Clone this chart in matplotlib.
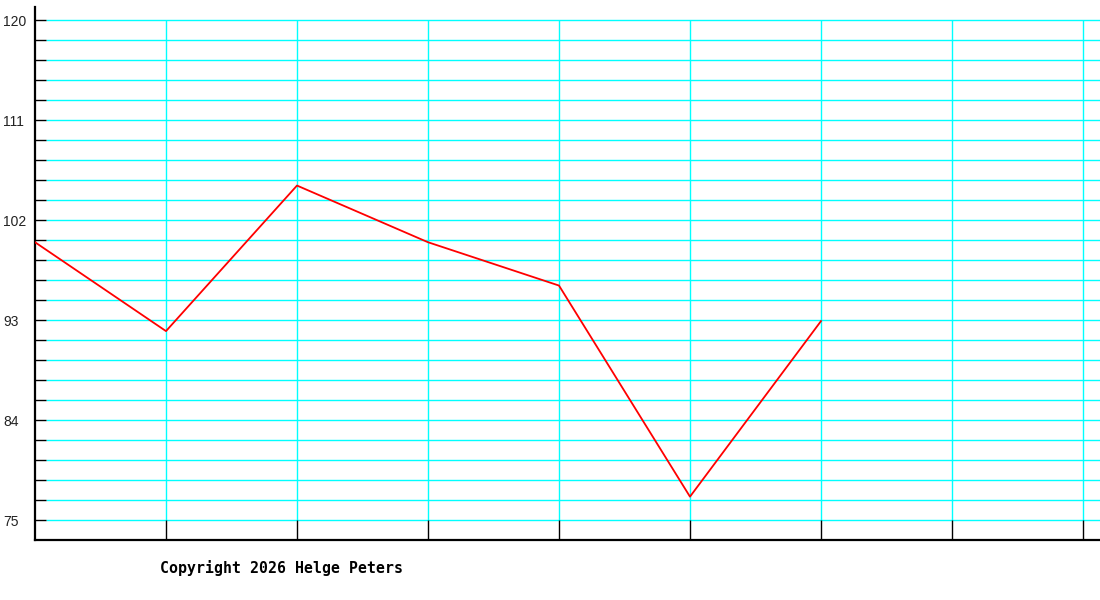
import numpy as np
import matplotlib.pyplot as plt

# values
x_pos = [0, 1, 2, 3, 4, 5, 6]
values = [100.0, 92.0, 105.1, 100.0, 96.1, 77.1, 92.9]
y_labels = [75, 84, 93, 102, 111, 120]
n_xgrid = 8

y_lo, y_hi = 73.2, 121.17
x_hi = 8.13

fig = plt.figure(figsize=(11, 6), dpi=100)
ax = fig.add_axes([35 / 1100, 60 / 600, 1 - 35 / 1100, (540 - 7) / 600])
ax.set_xlim(0, x_hi)
ax.set_ylim(y_lo, y_hi)

cyan = '#00ffff'
minor = np.arange(75, 120.01, 1.8)

# horizontal grid (starts right of the inward ticks)
x_tick_len = 11 / 131
ax.hlines(minor, x_tick_len, x_hi, color=cyan, lw=1.0, zorder=1)
# vertical grid
xs = np.arange(1, n_xgrid + 1)
ax.vlines(xs, 75, 120, color=cyan, lw=1.0, zorder=1)
# black ticks
ax.vlines(xs, y_lo, 75, color='black', lw=1.0, zorder=2)
ax.hlines(minor, 0, x_tick_len, color='black', lw=1.0, zorder=2)

ax.plot(x_pos, values, color='red', lw=1.3, zorder=3)

for spine in ['top', 'right']:
    ax.spines[spine].set_visible(False)
for spine in ['left', 'bottom']:
    ax.spines[spine].set_linewidth(1.6)
    ax.spines[spine].set_color('black')

ax.set_xticks([])
ax.set_yticks(y_labels)
ax.set_yticklabels([str(v) for v in y_labels], family='Liberation Sans', fontsize=10,
                   ha='left', color='#222222')
ax.tick_params(axis='y', length=0, pad=32 * 0.72)

fig.text(160 / 1100, 1 - 568 / 600, 'Copyright 2026 Helge Peters',
         family='DejaVu Sans Mono', fontsize=10.7, fontweight='bold',
         va='center', ha='left')

fig.savefig('out.png', dpi=100)
